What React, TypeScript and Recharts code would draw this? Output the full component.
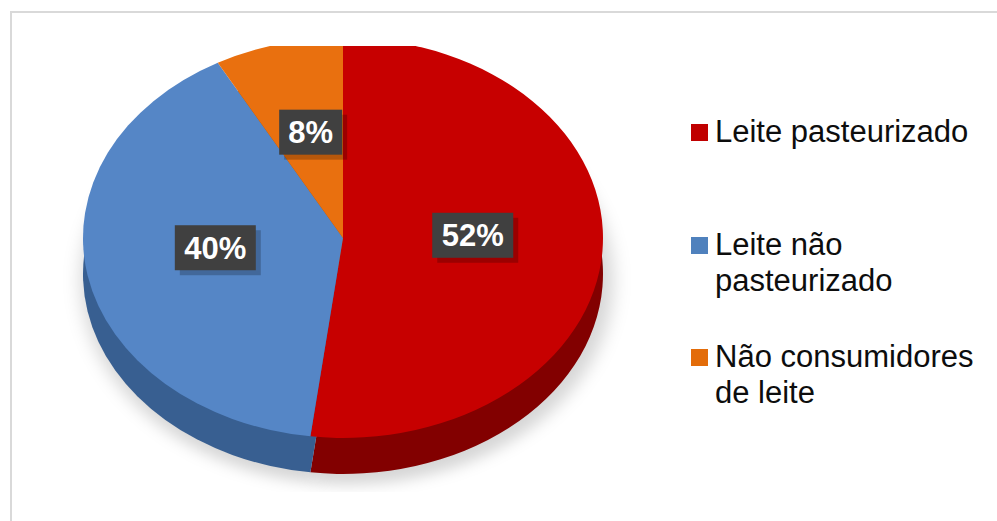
import { PieChart, Pie, Cell, Legend } from 'recharts'

const categories = ['Leite pasteurizado', 'Leite não pasteurizado', 'Não consumidores de leite']
const shares = [52, 40, 8]
const topColors = ['#c70000', '#5586c6', '#e9700f']
const sideColors = ['#820000', '#385f91', '#a64e08']
const swatchColors = ['#c00000', '#4f81bd', '#e36c09']

const data = categories.map((name, i) => ({ name, value: shares[i] }))

// the pie is drawn round and squashed vertically to look tilted
const K = 0.769
const TOP = 46
const CX = 343
const CY_PAGE = 238
const R = 260
const DEPTH = 36
const FONT = '"Liberation Sans", Arial, sans-serif'

const cyTop = (CY_PAGE - TOP) / K
const cySide = (CY_PAGE + DEPTH - TOP) / K

function PctLabel(props: any) {
  const { cx, cy, midAngle, outerRadius, value } = props
  const rad = Math.PI / 180
  const x = cx + outerRadius * 0.5 * Math.cos(-midAngle * rad)
  const y = cy + outerRadius * 0.5 * Math.sin(-midAngle * rad) - 9 / K
  const w = value < 10 ? 63 : 81
  return (
    <g transform={`translate(${x},${y}) scale(1,${1 / K})`}>
      <rect x={-w / 2 + 5} y={-22.5 + 5} width={w} height={45} fill="rgba(0,0,0,0.22)" />
      <rect x={-w / 2} y={-22.5} width={w} height={45} fill="#404040" />
      <text x={0} y={11} textAnchor="middle" fill="#fff" fontSize={31} fontWeight="bold" fontFamily={FONT}>
        {value}%
      </text>
    </g>
  )
}

function LegendBox({ payload }: any) {
  // every pie reports its slices; keep one entry per category, in order
  const names = categories.filter(c => (payload || []).some((p: any) => p.value === c))
  return (
    <div style={{ fontFamily: FONT, fontSize: 31, lineHeight: '36px', color: '#0d0d0d' }}>
      {names.map(name => {
        const i = categories.indexOf(name)
        return (
          <div key={name} style={{ position: 'relative', height: 112.5, paddingLeft: 24, width: 266 }}>
            <span style={{ position: 'absolute', left: 0, top: 10, width: 17, height: 17, background: swatchColors[i] }} />
            {name}
          </div>
        )
      })}
    </div>
  )
}

export default function App() {
  return (
    <div style={{ position: 'absolute', left: 0, top: 0, width: 997, height: 521, background: '#fff', overflow: 'hidden' }}>
      <style>{`.tilted .recharts-surface { transform: scaleY(${K}); transform-origin: 0 0; }`}</style>
      <div style={{ position: 'absolute', left: 10, top: 11, width: 1000, height: 520, border: '2px solid #d9d9d9', boxSizing: 'border-box' }} />
      <div className="tilted" style={{ position: 'absolute', left: 0, top: TOP }}>
        <PieChart width={997} height={580} margin={{ top: 0, right: 0, bottom: 0, left: 0 }}>
          <defs>
            <filter id="pieShadow" x="-20%" y="-20%" width="140%" height="140%">
              <feGaussianBlur stdDeviation="9" />
            </filter>
          </defs>
          <Pie
            data={data}
            dataKey="value"
            nameKey="name"
            cx={CX + 4}
            cy={cySide + 8}
            outerRadius={R + 6}
            startAngle={90}
            endAngle={-270}
            stroke="none"
            fill="#000"
            fillOpacity={0.16}
            filter="url(#pieShadow)"
            legendType="none"
            isAnimationActive={false}
          />
          <Pie
            data={data}
            dataKey="value"
            nameKey="name"
            cx={CX}
            cy={cySide}
            outerRadius={R}
            startAngle={90}
            endAngle={-270}
            stroke="none"
            legendType="none"
            isAnimationActive={false}
          >
            {data.map((d, i) => (
              <Cell key={d.name} fill={sideColors[i]} />
            ))}
          </Pie>
          <Pie
            data={data}
            dataKey="value"
            nameKey="name"
            cx={CX}
            cy={cyTop}
            outerRadius={R}
            startAngle={90}
            endAngle={-270}
            stroke="none"
            label={PctLabel}
            labelLine={false}
            isAnimationActive={false}
          >
            {data.map((d, i) => (
              <Cell key={d.name} fill={topColors[i]} />
            ))}
          </Pie>
          <Legend
            layout="vertical"
            align="right"
            verticalAlign="top"
            content={LegendBox}
            wrapperStyle={{ left: 691, top: 114 - TOP, right: 'auto', width: 290 }}
          />
        </PieChart>
      </div>
    </div>
  )
}
